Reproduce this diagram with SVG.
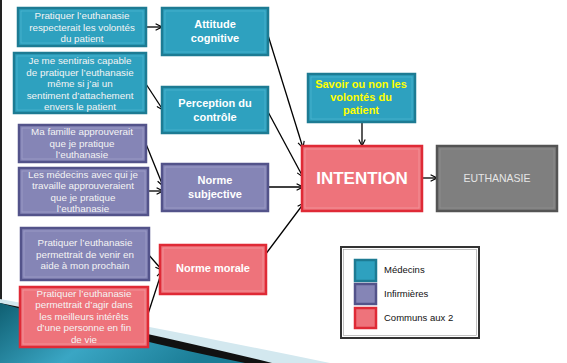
<svg xmlns="http://www.w3.org/2000/svg" width="567" height="363" viewBox="0 0 567 363">
<defs>
<marker id="arr" viewBox="0 0 10 10" refX="9" refY="5" markerWidth="8" markerHeight="8" orient="auto" markerUnits="userSpaceOnUse">
<path d="M1,1 L9,5 L1,9" fill="none" stroke="#000" stroke-width="1.4"/>
</marker>
<linearGradient id="tg" x1="0" y1="0" x2="1" y2="0.3">
<stop offset="0" stop-color="#0f5f72"/>
<stop offset="0.5" stop-color="#3aa6c4"/>
<stop offset="1" stop-color="#1b7d96"/>
</linearGradient>
<style>
.teal{fill:#2ea1bf;stroke:#1d7b93;stroke-width:2.5}
.purp{fill:#8585b6;stroke:#53538a;stroke-width:2.5}
.red{fill:#ee737b;stroke:#df2a36;stroke-width:2.5}
.grey{fill:#7f7f7f;stroke:#545454;stroke-width:2.5}
.in{fill:none;stroke-width:0.8}
.t{font-family:"Liberation Sans",Arial,sans-serif;font-size:9.8px;fill:#f4f4f4;text-anchor:middle}
.b{font-family:"Liberation Sans",Arial,sans-serif;font-size:11px;font-weight:bold;fill:#fff;text-anchor:middle}
.l{font-family:"Liberation Sans",Arial,sans-serif;font-size:9.5px;fill:#111}
.c{stroke:#000;stroke-width:1.3;fill:none;marker-end:url(#arr)}
</style>
</defs>
<rect width="567" height="363" fill="#fff"/>
<!-- slide decoration -->
<line x1="1" y1="0" x2="1" y2="302" stroke="#222" stroke-width="2"/>
<path d="M0,299 Q160,328 330,363 L0,363 Z" fill="#d3e8ef"/>
<path d="M0,303 Q150,333 272,363 L0,363 Z" fill="#111"/>
<path d="M0,303 Q130,340 245,363 L0,363 Z" fill="url(#tg)"/>

<g id="connectors">
<line class="c" x1="146" y1="27" x2="162" y2="27"/>
<line class="c" x1="146" y1="84" x2="163" y2="110"/>
<line class="c" x1="146" y1="144" x2="163" y2="186"/>
<line class="c" x1="148" y1="191" x2="163" y2="191"/>
<line class="c" x1="148" y1="254" x2="162" y2="270"/>
<line class="c" x1="147" y1="317" x2="162" y2="271"/>
<line class="c" x1="267" y1="32" x2="303" y2="148"/>
<line class="c" x1="267" y1="110" x2="303" y2="177"/>
<line class="c" x1="268" y1="187" x2="303" y2="187"/>
<line class="c" x1="265" y1="255" x2="304" y2="203"/>
<line class="c" x1="362" y1="122" x2="362" y2="146"/>
<line class="c" x1="422" y1="178" x2="437" y2="178"/>
</g>

<g id="n1"><rect class="teal" x="18" y="8" width="128" height="38"/><rect class="in" x="21" y="11" width="122" height="32" stroke="#4cb4cf"/>
<text class="t" x="82" y="19">Pratiquer l’euthanasie</text><text class="t" x="82" y="30.5">respecterait les volontés</text><text class="t" x="82" y="42">du patient</text></g>

<g id="n2"><rect class="teal" x="14" y="53" width="132" height="60"/><rect class="in" x="17" y="56" width="126" height="54" stroke="#4cb4cf"/>
<text class="t" x="80" y="64">Je me sentirais capable</text><text class="t" x="80" y="75.5">de pratiquer l’euthanasie</text><text class="t" x="80" y="87">même si j’ai un</text><text class="t" x="80" y="98.5">sentiment d’attachement</text><text class="t" x="80" y="110">envers le patient</text></g>

<g id="n3"><rect class="purp" x="19" y="125" width="127" height="37"/><rect class="in" x="22" y="128" width="121" height="31" stroke="#9d9dc8"/>
<text class="t" x="82" y="135">Ma famille approuverait</text><text class="t" x="82" y="146.5">que je pratique</text><text class="t" x="82" y="158">l’euthanasie</text></g>

<g id="n4"><rect class="purp" x="19" y="168" width="129" height="47"/><rect class="in" x="22" y="171" width="123" height="41" stroke="#9d9dc8"/>
<text class="t" x="83" y="177.5">Les médecins avec qui je</text><text class="t" x="83" y="189">travaille approuveraient</text><text class="t" x="83" y="200.5">que je pratique</text><text class="t" x="83" y="212">l’euthanasie</text></g>

<g id="n5"><rect class="purp" x="21" y="228" width="128" height="52"/><rect class="in" x="24" y="231" width="122" height="46" stroke="#9d9dc8"/>
<text class="t" x="85" y="246">Pratiquer l’euthanasie</text><text class="t" x="85" y="257.5">permettrait de venir en</text><text class="t" x="85" y="269">aide à mon prochain</text></g>

<g id="n6"><rect class="red" x="20" y="287" width="128" height="60"/><rect class="in" x="23" y="290" width="122" height="54" stroke="#f39aa0"/>
<text class="t" x="84" y="296.5">Pratiquer l’euthanasie</text><text class="t" x="84" y="308">permettrait d’agir dans</text><text class="t" x="84" y="319.5">les meilleurs intérêts</text><text class="t" x="84" y="331">d’une personne en fin</text><text class="t" x="84" y="342.5">de vie</text></g>

<g id="attitude"><rect class="teal" x="162" y="8" width="106" height="47"/><rect class="in" x="165" y="11" width="100" height="41" stroke="#4cb4cf"/>
<text class="b" x="215" y="28">Attitude</text><text class="b" x="215" y="42">cognitive</text></g>

<g id="perception"><rect class="teal" x="162" y="87" width="106" height="46"/><rect class="in" x="165" y="90" width="100" height="40" stroke="#4cb4cf"/>
<text class="b" x="215" y="107">Perception du</text><text class="b" x="215" y="121">contrôle</text></g>

<g id="subjective"><rect class="purp" x="162" y="164" width="106" height="47"/><rect class="in" x="165" y="167" width="100" height="41" stroke="#9d9dc8"/>
<text class="b" x="215" y="184">Norme</text><text class="b" x="215" y="198">subjective</text></g>

<g id="morale"><rect class="red" x="160" y="245" width="106" height="49"/><rect class="in" x="163" y="248" width="100" height="43" stroke="#f39aa0"/>
<text class="b" x="213" y="272">Norme morale</text></g>

<g id="savoir"><rect class="teal" x="308" y="74" width="107" height="48"/><rect class="in" x="311" y="77" width="101" height="42" stroke="#4cb4cf"/>
<text class="b" x="361" y="88" style="fill:#ffff00">Savoir ou non les</text><text class="b" x="361" y="101" style="fill:#ffff00">volontés du</text><text class="b" x="361" y="114" style="fill:#ffff00">patient</text></g>

<g id="intention"><rect class="red" x="302" y="146" width="120" height="65"/><rect class="in" x="305" y="149" width="114" height="59" stroke="#f39aa0"/>
<text class="b" x="362" y="184" style="font-size:17px">INTENTION</text></g>

<g id="euthanasie"><rect class="grey" x="437" y="146" width="120" height="65"/><rect class="in" x="440" y="149" width="114" height="59" stroke="#8f8f8f"/>
<text class="t" x="497" y="182" style="font-size:10.5px;fill:#e6e6e6">EUTHANASIE</text></g>

<g id="legend"><rect x="341" y="247" width="138" height="91" fill="#fff" stroke="#333" stroke-width="2"/><rect x="343.5" y="249.5" width="133" height="86" fill="none" stroke="#999" stroke-width="0.6"/>
<rect class="teal" x="355" y="260" width="21" height="21"/><rect class="purp" x="355" y="284" width="21" height="20"/><rect class="red" x="355" y="308" width="21" height="20"/>
<text class="l" x="384" y="273">Médecins</text><text class="l" x="384" y="297">Infirmières</text><text class="l" x="384" y="321">Communs aux 2</text></g>
</svg>
